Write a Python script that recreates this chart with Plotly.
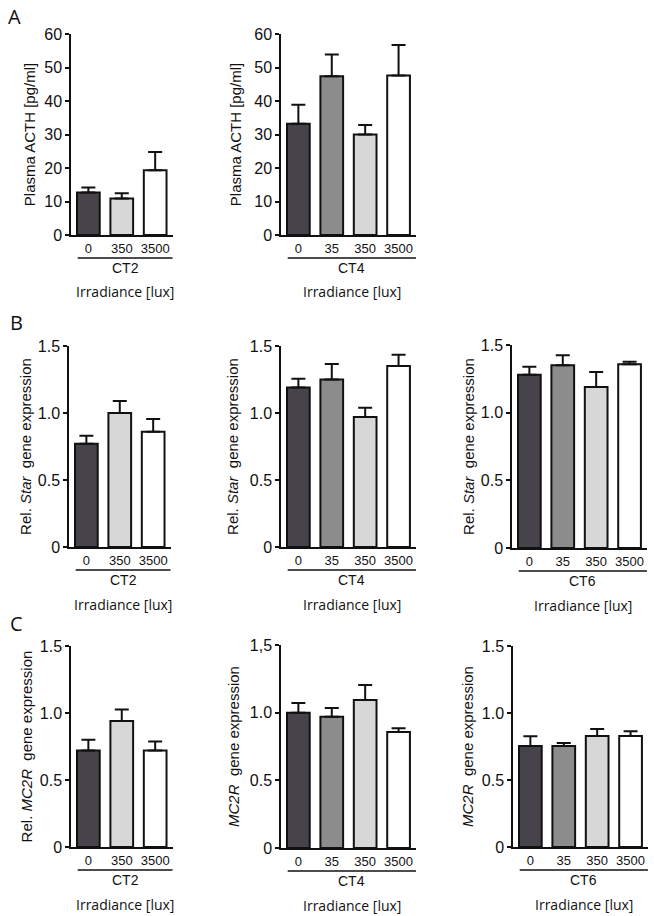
import plotly.graph_objects as go

# irradiance groups
cats3 = ["0", "350", "3500"]
cats4 = ["0", "35", "350", "3500"]
bar_colors = {"0": "#47434a", "35": "#8c8c8c", "350": "#d7d7d7", "3500": "#ffffff"}

# A: plasma ACTH [pg/ml], mean and SEM
acth_ct2 = [12.7, 10.9, 19.3]
acth_ct2_sem = [1.5, 1.6, 5.5]
acth_ct4 = [33.2, 47.4, 30.0, 47.6]
acth_ct4_sem = [5.7, 6.5, 2.8, 9.1]

# B: relative Star expression
star_ct2 = [0.77, 1.00, 0.86]
star_ct2_sem = [0.06, 0.09, 0.095]
star_ct4 = [1.19, 1.25, 0.97, 1.35]
star_ct4_sem = [0.065, 0.115, 0.07, 0.085]
star_ct6 = [1.28, 1.35, 1.19, 1.357]
star_ct6_sem = [0.06, 0.075, 0.11, 0.02]

# C: relative MC2R expression
mc2r_ct2 = [0.72, 0.94, 0.72]
mc2r_ct2_sem = [0.08, 0.087, 0.068]
mc2r_ct4 = [1.00, 0.97, 1.094, 0.858]
mc2r_ct4_sem = [0.072, 0.064, 0.11, 0.027]
mc2r_ct6 = [0.754, 0.754, 0.828, 0.828]
mc2r_ct6_sem = [0.072, 0.022, 0.053, 0.035]

acth_ticks = [0, 10, 20, 30, 40, 50, 60]
acth_ticktext = ["0", "10", "20", "30", "40", "50", "60"]
expr_ticks = [0, 0.5, 1.0, 1.5]
expr_ticktext = ["0", "0.5", "1.0", "1.5"]
expr_ticktext_comma = ["0", "0.5", "1.0", "1,5"]

W, H = 654, 916
def px_x(v):
    return v / W
def px_y(v):
    return 1 - v / H

AXFONT = "Liberation Sans, Arial, sans-serif"
LABFONT = "Open Sans, sans-serif"

# (cats, values, sem, ymax, ticks, ticktext, ytitle, ct label, x0 px, y top px, y bottom px, title standoff)
panels = [
    (cats3, acth_ct2, acth_ct2_sem, 60, acth_ticks, acth_ticktext, "Plasma ACTH [pg/ml]", "CT2", 71, 34, 235, 5),
    (cats4, acth_ct4, acth_ct4_sem, 60, acth_ticks, acth_ticktext, "Plasma ACTH [pg/ml]", "CT4", 281, 34, 235, 9),
    (cats3, star_ct2, star_ct2_sem, 1.5, expr_ticks, expr_ticktext, "Rel. <i>Star</i>  gene expression", "CT2", 69, 346, 547, 3),
    (cats4, star_ct4, star_ct4_sem, 1.5, expr_ticks, expr_ticktext, "Rel. <i>Star</i>  gene expression", "CT4", 281, 346, 547, 8),
    (cats4, star_ct6, star_ct6_sem, 1.5, expr_ticks, expr_ticktext, "Rel. <i>Star</i>  gene expression", "CT6", 512, 345, 548, 3),
    (cats3, mc2r_ct2, mc2r_ct2_sem, 1.5, expr_ticks, expr_ticktext, "Rel. <i>MC2R</i>  gene expression", "CT2", 71, 646, 847, 4),
    (cats4, mc2r_ct4, mc2r_ct4_sem, 1.5, expr_ticks, expr_ticktext_comma, "<i>MC2R</i>  gene expression", "CT4", 281, 645, 848, 7),
    (cats4, mc2r_ct6, mc2r_ct6_sem, 1.5, expr_ticks, expr_ticktext, "<i>MC2R</i>  gene expression", "CT6", 513, 646, 847, 5),
]

SPACING = 33.4  # px per category

fig = go.Figure()
layout = {}
shapes = []
annotations = []

for i, (cats, vals, sem, ymax, ticks, ticktext, ytitle, ct, x0, ytop, ybot, standoff) in enumerate(panels):
    n = i + 1
    xa = "x" if n == 1 else f"x{n}"
    ya = "y" if n == 1 else f"y{n}"
    lo, hi = -0.52, len(cats) - 1 + 0.52
    x1 = x0 + (hi - lo) * SPACING
    fig.add_trace(go.Bar(
        x=cats, y=vals,
        xaxis=xa, yaxis=ya,
        width=0.68,
        marker=dict(color=[bar_colors[c] for c in cats], line=dict(color="#111111", width=2)),
        error_y=dict(type="data", array=sem, arrayminus=[0] * len(sem), symmetric=False,
                     color="#111111", thickness=2, width=7),
        showlegend=False,
    ))
    layout["xaxis" if n == 1 else f"xaxis{n}"] = dict(
        domain=[px_x(x0), px_x(x1)], anchor=ya, type="category", automargin=False,
        range=[lo, hi], showline=True, linecolor="#111111", linewidth=2,
        ticks="", showgrid=False, zeroline=False,
        tickfont=dict(family=AXFONT, size=13, color="#111111"),
    )
    layout["yaxis" if n == 1 else f"yaxis{n}"] = dict(
        domain=[px_y(ybot), px_y(ytop)], anchor=xa, automargin=False,
        range=[0, ymax], tickvals=ticks, ticktext=ticktext,
        showline=True, linecolor="#111111", linewidth=1.5,
        ticks="outside", ticklen=4, tickwidth=1.5, tickcolor="#111111",
        showgrid=False, zeroline=False,
        tickfont=dict(family=AXFONT, size=16, color="#111111"),
        title=dict(text=ytitle, font=dict(family=AXFONT, size=15, color="#111111"), standoff=standoff),
    )
    # group line under the irradiance labels
    lx0 = x0 + 0.2 * SPACING
    shapes.append(dict(type="line", xref="paper", yref="paper",
                       x0=px_x(lx0), x1=px_x(x1), y0=px_y(ybot + 23), y1=px_y(ybot + 23),
                       line=dict(color="#111111", width=1.5)))
    cx = (lx0 + x1) / 2
    annotations.append(dict(text=ct, xref="paper", yref="paper", x=px_x(cx), y=px_y(ybot + 33),
                            showarrow=False, xanchor="center", yanchor="middle",
                            font=dict(family=AXFONT, size=14, color="#111111")))
    annotations.append(dict(text="Irradiance [lux]", xref="paper", yref="paper", x=px_x(cx), y=px_y(ybot + 57),
                            showarrow=False, xanchor="center", yanchor="middle",
                            font=dict(family=LABFONT, size=14, color="#111111")))

for letter, lx, ly in [("A", 6, 16), ("B", 8, 322), ("C", 8, 623)]:
    annotations.append(dict(text=letter, xref="paper", yref="paper", x=px_x(lx), y=px_y(ly),
                            showarrow=False, xanchor="left", yanchor="middle",
                            font=dict(family=LABFONT, size=20, color="#111111")))

fig.update_layout(
    width=W, height=H,
    margin=dict(l=0, r=0, t=0, b=0),
    paper_bgcolor="white", plot_bgcolor="white",
    shapes=shapes, annotations=annotations,
    **layout,
)

# drop the default page margin so the figure sits at the window's top-left corner
fig.write_html("out.html", config={"displayModeBar": False},
               post_script="document.body.style.margin='0';document.body.style.overflow='hidden';")
